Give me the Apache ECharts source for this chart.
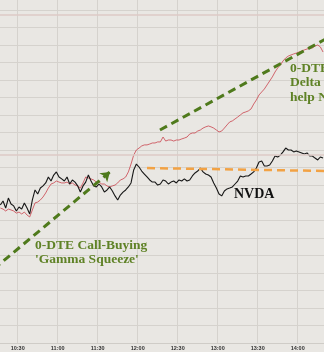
<!DOCTYPE html>
<html><head><meta charset="utf-8">
<script src="https://cdn.jsdelivr.net/npm/echarts@6/dist/echarts.min.js"></script>
<style>html,body{margin:0;padding:0;background:#e9e7e3;}#c{width:324px;height:352px;}</style>
</head><body><div id="c"></div>
<script>
// time index: minutes since midnight, one reading every 2 minutes from 10:17
const startMinute = 617;
const stepMinutes = 2;
const tickLabels = ['10:30','11:00','11:30','12:00','12:30','13:00','13:30','14:00'];

// NVDA price (black)
const nvda = [437.87,438.10,437.70,438.27,437.93,437.82,437.53,437.76,437.64,437.99,
437.70,437.36,438.16,438.73,438.50,438.84,438.96,439.13,439.47,439.24,
439.58,439.76,439.47,439.36,439.24,439.47,439.07,439.30,439.18,438.96,
438.61,438.96,439.18,439.58,439.24,438.96,438.90,439.07,438.90,438.61,
438.73,438.90,438.67,438.39,438.16,438.44,438.61,438.73,438.90,439.13,
439.87,440.21,440.04,439.81,439.64,439.47,439.30,439.18,439.18,439.01,
439.07,439.30,439.24,439.07,439.18,439.24,439.13,439.30,439.24,439.36,
439.24,439.30,439.53,439.70,439.81,439.98,439.76,439.64,439.58,439.47,
439.13,438.84,438.50,438.39,438.67,438.79,438.84,438.90,439.07,439.24,
439.53,439.47,439.53,439.53,439.64,439.76,439.98,440.33,440.38,440.10,
440.10,440.15,440.38,440.67,440.61,440.72,440.90,441.12,441.01,441.01,
440.90,440.95,440.90,440.84,440.78,440.84,440.67,440.67,440.55,440.44,
440.61,440.55];

// 0-DTE call delta index (red)
const callDelta = [7.70,7.64,7.53,7.64,7.59,7.53,7.41,7.47,7.36,7.47,
7.30,7.19,7.59,7.99,8.04,8.16,8.33,8.56,8.84,9.07,
9.13,9.24,9.18,9.13,9.13,9.18,9.07,9.13,9.01,8.96,
8.84,9.13,9.47,9.41,9.36,9.30,9.18,9.18,9.07,9.07,
8.96,8.90,8.96,9.01,9.13,9.30,9.36,9.47,9.76,10.21,
10.72,11.01,11.12,11.24,11.30,11.30,11.35,11.41,11.41,11.47,
11.47,11.75,11.52,11.58,11.58,11.52,11.58,11.58,11.64,11.69,
11.75,11.92,11.98,11.98,12.09,12.15,12.26,12.33,12.38,12.33,
12.26,12.15,12.04,12.09,12.26,12.44,12.61,12.67,12.78,12.89,
13.01,13.13,13.18,13.24,13.35,13.63,13.86,14.15,14.32,14.49,
14.72,14.95,15.18,15.46,15.69,15.86,16.09,16.26,16.37,16.43,
16.49,16.54,16.60,16.66,16.72,16.77,16.83,16.83,16.94,17.00,
16.89,16.60];

// trend annotations [minute, NVDA level]
const gammaTrend = [[612, 434.22], [699.2, 439.76]];
const deltaTrend = [[736.7, 442.15], [864, 447.47]];
const flatTrend = [[727, 439.98], [864, 439.81]];
const rightAxisGuides = [18.74, 10.72];

const times = nvda.map((_, i) => startMinute + stepMinutes * i);
const pairs = arr => arr.map((v, i) => [times[i], v]);
const fmt = m => { const h = Math.floor(m / 60), mm = m % 60; return h + ':' + (mm < 10 ? '0' : '') + mm; };

const chart = echarts.init(document.getElementById('c'), null, {renderer: 'canvas'});
const gridColor = '#d5d2cd';
chart.setOption({
  backgroundColor: '#e9e7e3',
  animation: false,
  grid: {left: -22.3, right: -13.7, top: -7.6, bottom: 9, containLabel: false, outerBoundsMode: 'none'},
  xAxis: {
    type: 'value', min: 600, max: 870, interval: 30,
    axisLine: {show: true, lineStyle: {color: '#cfccc7', width: 1}},
    axisTick: {show: false},
    splitLine: {show: true, lineStyle: {color: gridColor, width: 1}},
    axisLabel: {
      margin: 2, fontSize: 5.5, color: '#333', fontFamily: 'Liberation Sans, Arial', fontWeight: 'bold',
      formatter: v => tickLabels.includes(fmt(v)) ? fmt(v) : ''
    }
  },
  yAxis: [
    {type: 'value', min: 430, max: 450, interval: 1,
     axisLine: {show: false}, axisTick: {show: false}, axisLabel: {show: false},
     splitLine: {show: true, lineStyle: {color: gridColor, width: 1}}},
    {type: 'value', min: 0, max: 20, interval: 1, position: 'right',
     axisLine: {show: false}, axisTick: {show: false}, axisLabel: {show: false},
     splitLine: {show: false}}
  ],
  series: [
    {type: 'line', yAxisIndex: 1, data: pairs(callDelta), symbol: 'none',
     lineStyle: {color: '#c9434c', width: 0.8}, z: 3,
     markLine: {silent: true, symbol: 'none', label: {show: false},
       lineStyle: {color: '#dccac6', width: 1.5, type: 'solid'},
       data: rightAxisGuides.map(v => ({yAxis: v}))}},
    {type: 'line', yAxisIndex: 0, data: pairs(nvda), symbol: 'none',
     lineStyle: {color: '#161616', width: 1.1}, z: 4},
    {type: 'line', yAxisIndex: 0, data: flatTrend, symbol: 'none', z: 5,
     lineStyle: {color: '#f2a244', width: 2.5, type: [8, 5]}},
    {type: 'line', yAxisIndex: 0, data: deltaTrend, symbol: 'none', z: 5,
     lineStyle: {color: '#4f7a1c', width: 3, type: [8, 5]}},
    {type: 'line', yAxisIndex: 0, data: gammaTrend, symbol: 'none', z: 5,
     lineStyle: {color: '#4f7a1c', width: 3, type: [8, 5]},
     markLine: {silent: true, symbol: ['none', 'arrow'], symbolSize: 9, label: {show: false},
       lineStyle: {color: '#4f7a1c', width: 0.1, type: 'solid', opacity: 1},
       data: [[{coord: [gammaTrend[1][0] - 3, gammaTrend[1][1] - 0.2]}, {coord: gammaTrend[1]}]]}}
  ],
  graphic: [
    {type: 'text', left: 35, top: 239, z: 10, style: {text: "0-DTE Call-Buying\n'Gamma Squeeze'",
      font: 'bold 13.5px "Liberation Serif", "DejaVu Serif", serif', fill: '#5f8226', lineHeight: 14}},
    {type: 'text', left: 290, top: 61, z: 10, style: {text: '0-DTE Traders\nDelta Hedging\nhelp NVDA higher',
      font: 'bold 13.5px "Liberation Serif", "DejaVu Serif", serif', fill: '#5f8226', lineHeight: 14.5}},
    {type: 'text', left: 234, top: 187, z: 10, style: {text: 'NVDA',
      font: 'bold 14px "Liberation Serif", "DejaVu Serif", serif', fill: '#111'}}
  ]
});
</script></body></html>
